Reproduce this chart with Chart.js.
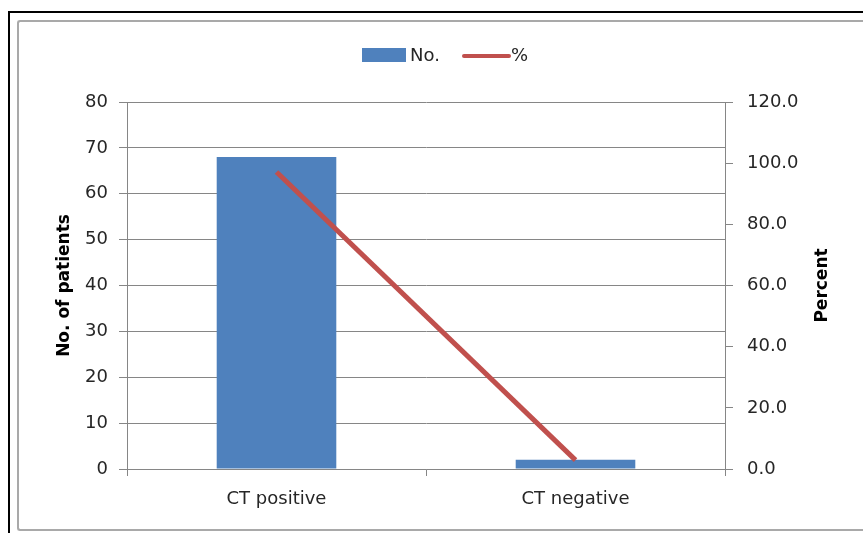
<!DOCTYPE html>
<html>
<head>
<meta charset="utf-8">
<script src="https://cdn.jsdelivr.net/npm/chart.js@4/dist/chart.umd.min.js"></script>
<style>
  html, body { margin: 0; padding: 0; background: #fff; overflow: hidden; }
  #wrap { position: relative; width: 863px; height: 533px; }
  .black { position: absolute; left: 8px; top: 11px; width: 900px; height: 600px;
           border-left: 2px solid #000; border-top: 2px solid #000; }
  .gray { position: absolute; left: 17px; top: 20px; width: 900px; height: 507px;
          border: 2px solid #a9a9a9; border-right: none; border-radius: 3px; }
  canvas { position: absolute; left: 0; top: 0; }
</style>
</head>
<body>
<div id="wrap">
  <div class="black"></div>
  <div class="gray"></div>
  <canvas id="c" width="863" height="533"></canvas>
</div>
<script>
// ---- data ----
const categories = ['CT positive', 'CT negative'];
const countValues = [68, 2];
const percentValues = [97.1, 2.9];
const seriesNames = ['No.', '%'];
const leftAxisTitle = 'No. of patients';
const rightAxisTitle = 'Percent';

const BLUE = '#4F81BD';
const RED = '#C0504D';
const GRID = '#868686';
const TXT = '#262626';

const customLegend = {
  id: 'customLegend',
  afterDraw(chart) {
    const ctx = chart.ctx;
    const ds = chart.data.datasets;
    const bar = ds.find(d => d.type === 'bar');
    const line = ds.find(d => d.type === 'line');
    ctx.save();
    ctx.font = '18px "DejaVu Sans"';
    ctx.textBaseline = 'middle';
    ctx.textAlign = 'left';
    // bar item
    ctx.fillStyle = bar.backgroundColor;
    ctx.fillRect(362, 48, 44, 14);
    ctx.fillStyle = TXT;
    ctx.fillText(bar.label, 410, 56);
    // line item
    ctx.strokeStyle = line.borderColor;
    ctx.lineWidth = 4;
    ctx.lineCap = 'round';
    ctx.beginPath();
    ctx.moveTo(464, 56);
    ctx.lineTo(509, 56);
    ctx.stroke();
    ctx.fillStyle = TXT;
    ctx.fillText(line.label, 511, 56);
    // right axis title (reads bottom to top)
    const yr = chart.scales.y1;
    ctx.font = 'bold 17px "DejaVu Sans"';
    ctx.textAlign = 'center';
    ctx.fillStyle = '#000';
    ctx.translate(823, (yr.top + yr.bottom) / 2);
    ctx.rotate(-Math.PI / 2);
    ctx.fillText(yr.options.title.text, 0, 0);
    ctx.restore();
  }
};

new Chart(document.getElementById('c'), {
  data: {
    labels: categories,
    datasets: [
      {
        type: 'bar',
        label: seriesNames[0],
        data: countValues,
        yAxisID: 'y',
        backgroundColor: BLUE,
        borderWidth: 0,
        barPercentage: 0.4,
        categoryPercentage: 1.0,
        order: 1
      },
      {
        type: 'line',
        label: seriesNames[1],
        data: percentValues,
        yAxisID: 'y1',
        borderColor: RED,
        backgroundColor: RED,
        borderWidth: 5,
        pointRadius: 0,
        tension: 0,
        order: 0
      }
    ]
  },
  options: {
    responsive: false,
    animation: false,
    layout: { padding: { top: 102, left: 0, right: 0, bottom: 0 } },
    plugins: {
      legend: { display: false },
      tooltip: { enabled: false }
    },
    scales: {
      x: {
        offset: true,
        grid: { display: true, drawOnChartArea: false, offset: true, color: GRID, tickLength: 7, lineWidth: 1 },
        border: { color: GRID, width: 1 },
        ticks: { color: TXT, font: { family: 'DejaVu Sans', size: 18 }, padding: 13, maxRotation: 0 },
        afterFit(s) { s.height = 64; }
      },
      y: {
        position: 'left',
        min: 0, max: 80,
        ticks: { stepSize: 10, color: TXT, font: { family: 'DejaVu Sans', size: 18 }, padding: 11 },
        grid: { color: GRID, tickLength: 8, lineWidth: 1 },
        border: { color: GRID, width: 1 },
        title: { display: true, text: leftAxisTitle, color: '#000', font: { family: 'DejaVu Sans', size: 17, weight: 'bold' }, padding: { top: 54, bottom: 0 } },
        afterFit(s) { s.width = 127; }
      },
      y1: {
        position: 'right',
        min: 0, max: 120,
        ticks: { stepSize: 20, color: TXT, font: { family: 'DejaVu Sans', size: 18 }, padding: 14,
                 callback: v => Number(v).toFixed(1) },
        grid: { drawOnChartArea: false, color: GRID, tickLength: 8, lineWidth: 1 },
        border: { color: GRID, width: 1 },
        title: { display: false, text: rightAxisTitle },
        afterFit(s) { s.width = 138; }
      }
    }
  },
  plugins: [customLegend]
});
</script>
</body>
</html>
